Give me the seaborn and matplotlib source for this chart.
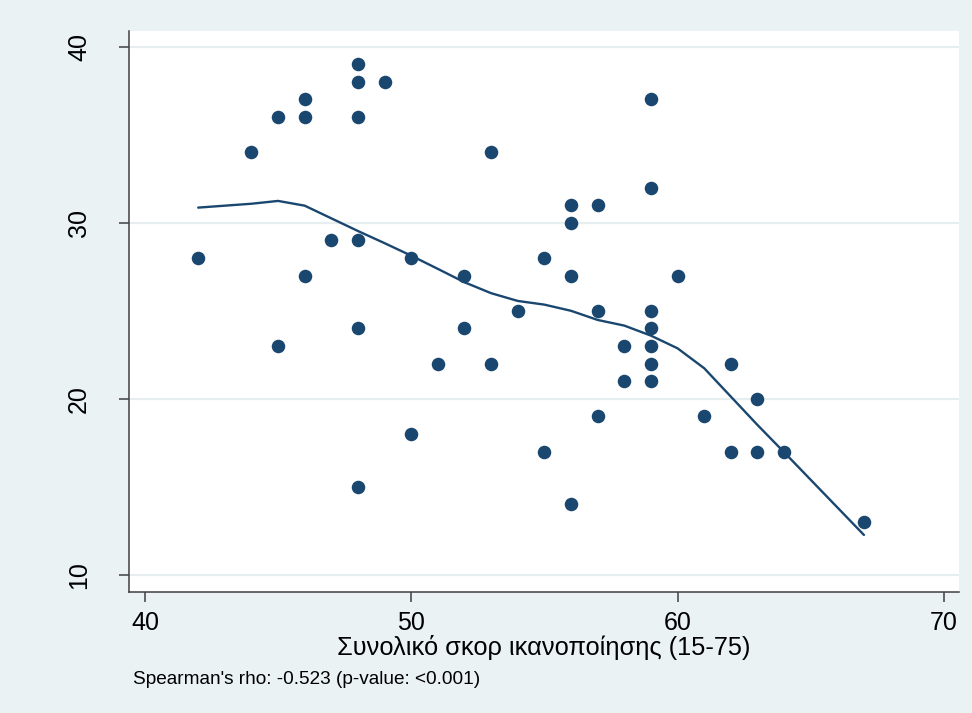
import matplotlib
matplotlib.use("Agg")
import matplotlib.pyplot as plt
import seaborn as sns
import pandas as pd

# Scatter data (satisfaction score vs. outcome)
x_vals = [42, 44, 45, 45, 46, 46, 46, 47, 48, 48, 48, 48, 48, 48, 49, 50, 50, 51,
          52, 52, 53, 53, 54, 55, 55, 56, 56, 56, 56, 57, 57, 57, 58, 58, 59, 59,
          59, 59, 59, 59, 59, 60, 61, 62, 62, 63, 63, 64, 67]
y_vals = [28, 34, 36, 23, 37, 36, 27, 29, 39, 38, 36, 29, 24, 15, 38, 28, 18, 22,
          27, 24, 34, 22, 25, 28, 17, 31, 30, 27, 14, 31, 25, 19, 23, 21, 37, 32,
          25, 24, 23, 22, 21, 27, 19, 22, 17, 20, 17, 17, 13]

# Lowess smoother
lowess_x = [42, 44, 45, 46, 47, 48, 49, 50, 51, 52, 53, 54, 55, 56, 57, 58, 59,
            60, 61, 62, 63, 64, 67]
lowess_y = [30.86, 31.08, 31.24, 30.97, 30.25, 29.53, 28.84, 28.13, 27.38, 26.62,
            26.0, 25.56, 25.35, 25.0, 24.48, 24.16, 23.59, 22.87, 21.74, 20.13,
            18.52, 16.97, 12.27]

x_ticks = [40, 50, 60, 70]
y_ticks = [10, 20, 30, 40]
x_label = "Συνολικό σκορ ικανοποίησης (15-75)"
note = "Spearman's rho: -0.523 (p-value: <0.001)"

NAVY = "#1a476f"
BG = "#eaf2f3"
GRID = "#e6eef0"
AXC = "#404040"

sns.set_theme(style="white")
plt.rcParams["font.family"] = ["Liberation Sans", "DejaVu Sans"]

W, H = 972, 713
fig = plt.figure(figsize=(W / 100, H / 100), dpi=100, facecolor=BG)
l, r, t, b = 128.7, 959, 31, 592
ax = fig.add_axes([l / W, 1 - b / H, (r - l) / W, (b - t) / H])
ax.set_facecolor("white")

df = pd.DataFrame({"x": x_vals, "y": y_vals})
ldf = pd.DataFrame({"x": lowess_x, "y": lowess_y})

sns.scatterplot(data=df, x="x", y="y", ax=ax, color=NAVY, s=95,
                linewidth=0, zorder=3)
sns.lineplot(data=ldf, x="x", y="y", ax=ax, color=NAVY, linewidth=1.7,
             zorder=4, sort=False)

ax.set_xlim(39.39, 70.57)
ax.set_ylim(9.03, 40.89)
ax.set_xticks(x_ticks)
ax.set_yticks(y_ticks)
ax.yaxis.grid(True, color=GRID, linewidth=1.6)
ax.xaxis.grid(False)
ax.set_axisbelow(True)

for side in ["top", "right"]:
    ax.spines[side].set_visible(False)
for side in ["left", "bottom"]:
    ax.spines[side].set_color(AXC)
    ax.spines[side].set_linewidth(1.1)

ax.tick_params(axis="both", which="major", direction="out", length=7,
               width=1.1, color=AXC, labelsize=18, labelcolor="black",
               bottom=True, left=True, pad=7)
for lab in ax.get_yticklabels():
    lab.set_rotation(90)
    lab.set_va("center")
ax.tick_params(axis="y", pad=20)

ax.set_xlabel(x_label, fontsize=18.3, color="black", labelpad=0)
ax.set_ylabel("")

fig.text(133 / W, 1 - 684 / H, note, fontsize=13.7, color="black",
         ha="left", va="baseline")

fig.savefig("out.png", dpi=100, facecolor=BG)
